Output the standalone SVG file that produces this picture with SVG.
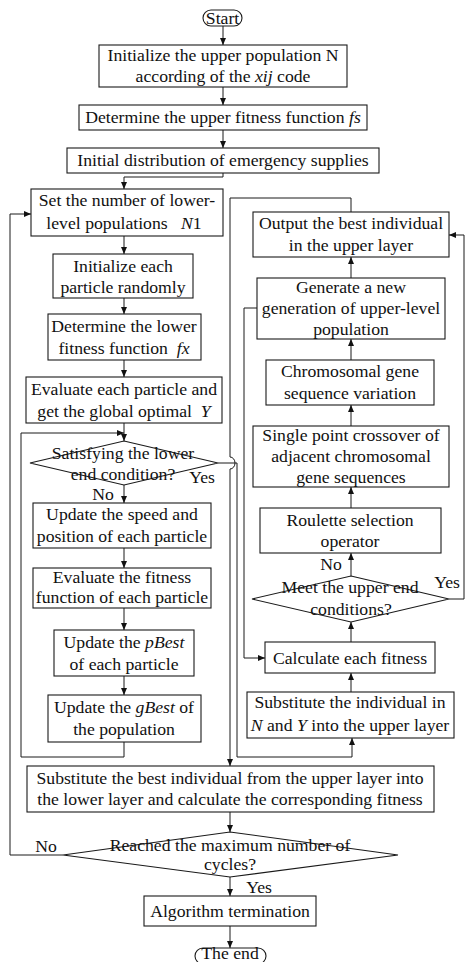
<svg xmlns="http://www.w3.org/2000/svg" width="466" height="962" viewBox="0 0 466 962">
<style>
  .box { fill: #fff; stroke: #1a1a1a; stroke-width: 1.1; }
  .ln { fill: none; stroke: #1a1a1a; stroke-width: 1; }
  text { font-family: "Liberation Serif", "Times New Roman", serif; font-size: 17.7px; fill: #111; text-anchor: middle; }
  .it { font-style: italic; }
</style>
<defs>
  <marker id="ah" markerWidth="8" markerHeight="8" refX="7" refY="3" orient="auto" markerUnits="userSpaceOnUse">
    <path d="M0,0 L7,3 L0,6 Z" fill="#111"/>
  </marker>
</defs>
<rect width="466" height="962" fill="#fff"/>

<g id="connectors">
  <path class="ln" d="M223,26 V45" marker-end="url(#ah)"/>
  <path class="ln" d="M223,87 V105" marker-end="url(#ah)"/>
  <path class="ln" d="M223,130 V148" marker-end="url(#ah)"/>
  <path class="ln" d="M223,173 V177 H124 V189" marker-end="url(#ah)"/>
  <path class="ln" d="M124,236 V254" marker-end="url(#ah)"/>
  <path class="ln" d="M124,298 V314" marker-end="url(#ah)"/>
  <path class="ln" d="M124,360 V377" marker-end="url(#ah)"/>
  <path class="ln" d="M124,423 V441" marker-end="url(#ah)"/>
  <path class="ln" d="M124,742 V757 H21 V433 H124" marker-end="url(#ah)"/>
  <path class="ln" d="M124,485 V503" marker-end="url(#ah)"/>
  <path class="ln" d="M124,548 V568" marker-end="url(#ah)"/>
  <path class="ln" d="M124,608 V630" marker-end="url(#ah)"/>
  <path class="ln" d="M124,676 V695" marker-end="url(#ah)"/>
  <path class="ln" d="M218,463 H237 V757 H352 V738" marker-end="url(#ah)"/>
  <path class="ln" d="M351,692 V673" marker-end="url(#ah)"/>
  <path class="ln" d="M351,642 V622" marker-end="url(#ah)"/>
  <path class="ln" d="M351,576 V553" marker-end="url(#ah)"/>
  <path class="ln" d="M351,508 V487" marker-end="url(#ah)"/>
  <path class="ln" d="M351,426 V405" marker-end="url(#ah)"/>
  <path class="ln" d="M351,360 V339" marker-end="url(#ah)"/>
  <path class="ln" d="M351,278 V257" marker-end="url(#ah)"/>
  <path class="ln" d="M257,308 H244 V658 H265" marker-end="url(#ah)"/>
  <path class="ln" d="M449,599 H464 V235 H449" marker-end="url(#ah)"/>
  <path class="ln" d="M351,212 V198 H230 V457 A5,6 0 0 1 230,469 V766" marker-end="url(#ah)"/>
  <path class="ln" d="M230,812 V832" marker-end="url(#ah)"/>
  <path class="ln" d="M63,855 H10 V214 H31" marker-end="url(#ah)"/>
  <path class="ln" d="M230,877 V896" marker-end="url(#ah)"/>
  <path class="ln" d="M230,926 V948" marker-end="url(#ah)"/>
</g>

<g id="start">
  <rect class="box" x="203" y="10" width="39" height="16" rx="8"/>
  <text x="222.5" y="24">Start</text>
</g>
<g id="init-upper">
  <rect class="box" x="99" y="45" width="248" height="42"/>
  <text x="223" y="61">Initialize the upper population N</text>
  <text x="223" y="82">according of the <tspan class="it">xij</tspan> code</text>
</g>
<g id="upper-fitness">
  <rect class="box" x="79" y="105" width="288" height="25"/>
  <text x="223" y="123">Determine the upper fitness function <tspan class="it">fs</tspan></text>
</g>
<g id="initial-distribution">
  <rect class="box" x="67" y="148" width="312" height="25"/>
  <text x="223" y="166">Initial distribution of emergency supplies</text>
</g>
<g id="set-lower">
  <rect class="box" x="31" y="189" width="192" height="47"/>
  <text x="127" y="206">Set the number of lower-</text>
  <text x="124" y="229" xml:space="preserve">level populations   <tspan class="it">N</tspan>1</text>
</g>
<g id="init-particle">
  <rect class="box" x="53" y="254" width="140" height="44"/>
  <text x="123" y="272">Initialize each</text>
  <text x="123" y="293">particle randomly</text>
</g>
<g id="lower-fitness">
  <rect class="box" x="48" y="314" width="153" height="46"/>
  <text x="124" y="332">Determine the lower</text>
  <text x="124" y="354" xml:space="preserve">fitness function  <tspan class="it">fx</tspan></text>
</g>
<g id="evaluate-particle">
  <rect class="box" x="26" y="377" width="196" height="46"/>
  <text x="124" y="395">Evaluate each particle and</text>
  <text x="124" y="417" xml:space="preserve">get the global optimal  <tspan class="it">Y</tspan></text>
</g>
<g id="lower-end">
  <polygon class="box" points="124,441 218,463 124,485 30,463"/>
  <text x="123" y="459">Satisfying the lower</text>
  <text x="123" y="480">end condition?</text>
  <text x="202" y="483">Yes</text>
  <text x="103" y="500">No</text>
</g>
<g id="update-speed">
  <rect class="box" x="33" y="503" width="178" height="45"/>
  <text x="122" y="520">Update the speed and</text>
  <text x="122" y="542">position of each particle</text>
</g>
<g id="evaluate-fitness">
  <rect class="box" x="33" y="568" width="178" height="40"/>
  <text x="122" y="583">Evaluate the fitness</text>
  <text x="122" y="603">function of each particle</text>
</g>
<g id="update-pbest">
  <rect class="box" x="54" y="630" width="140" height="46"/>
  <text x="124" y="648">Update the <tspan class="it">pBest</tspan></text>
  <text x="124" y="670">of each particle</text>
</g>
<g id="update-gbest">
  <rect class="box" x="48" y="695" width="153" height="47"/>
  <text x="124" y="713">Update the <tspan class="it">gBest</tspan> of</text>
  <text x="124" y="735">the population</text>
</g>
<g id="output-best">
  <rect class="box" x="253" y="212" width="196" height="45"/>
  <text x="351" y="229">Output the best individual</text>
  <text x="351" y="251">in the upper layer</text>
</g>
<g id="generate">
  <rect class="box" x="257" y="278" width="188" height="61"/>
  <text x="351" y="293">Generate a new</text>
  <text x="351" y="314">generation of upper-level</text>
  <text x="351" y="335">population</text>
</g>
<g id="variation">
  <rect class="box" x="266" y="360" width="168" height="45"/>
  <text x="350" y="377">Chromosomal gene</text>
  <text x="350" y="399">sequence variation</text>
</g>
<g id="crossover">
  <rect class="box" x="253" y="426" width="196" height="61"/>
  <text x="351" y="441">Single point crossover of</text>
  <text x="351" y="462">adjacent chromosomal</text>
  <text x="351" y="483">gene sequences</text>
</g>
<g id="roulette">
  <rect class="box" x="260" y="508" width="181" height="45"/>
  <text x="350" y="526">Roulette selection</text>
  <text x="350" y="547">operator</text>
</g>
<g id="upper-end">
  <polygon class="box" points="351,576 449,599 351,622 252,599"/>
  <text x="350" y="593">Meet the upper end</text>
  <text x="351" y="615">conditions?</text>
  <text x="331" y="570">No</text>
  <text x="447" y="588">Yes</text>
</g>
<g id="calculate-fitness">
  <rect class="box" x="265" y="642" width="170" height="31"/>
  <text x="350" y="664">Calculate each fitness</text>
</g>
<g id="substitute-ny">
  <rect class="box" x="247" y="692" width="207" height="46"/>
  <text x="350" y="708">Substitute the individual in</text>
  <text x="350" y="731"><tspan class="it">N</tspan> and <tspan class="it">Y</tspan> into the upper layer</text>
</g>
<g id="substitute-best">
  <rect class="box" x="27" y="766" width="407" height="46"/>
  <text x="230" y="784">Substitute the best individual from the upper layer into</text>
  <text x="230" y="805">the lower layer and calculate the corresponding fitness</text>
</g>
<g id="max-cycles">
  <polygon class="box" points="230,832 398,855 230,877 63,855"/>
  <text x="230" y="851">Reached the maximum number of</text>
  <text x="230" y="870">cycles?</text>
  <text x="46" y="852">No</text>
  <text x="259" y="893">Yes</text>
</g>
<g id="termination">
  <rect class="box" x="144" y="896" width="172" height="30"/>
  <text x="230" y="917">Algorithm termination</text>
</g>
<g id="end">
  <rect class="box" x="195" y="948" width="71" height="16" rx="8"/>
  <text x="230" y="959">The end</text>
</g>
</svg>
